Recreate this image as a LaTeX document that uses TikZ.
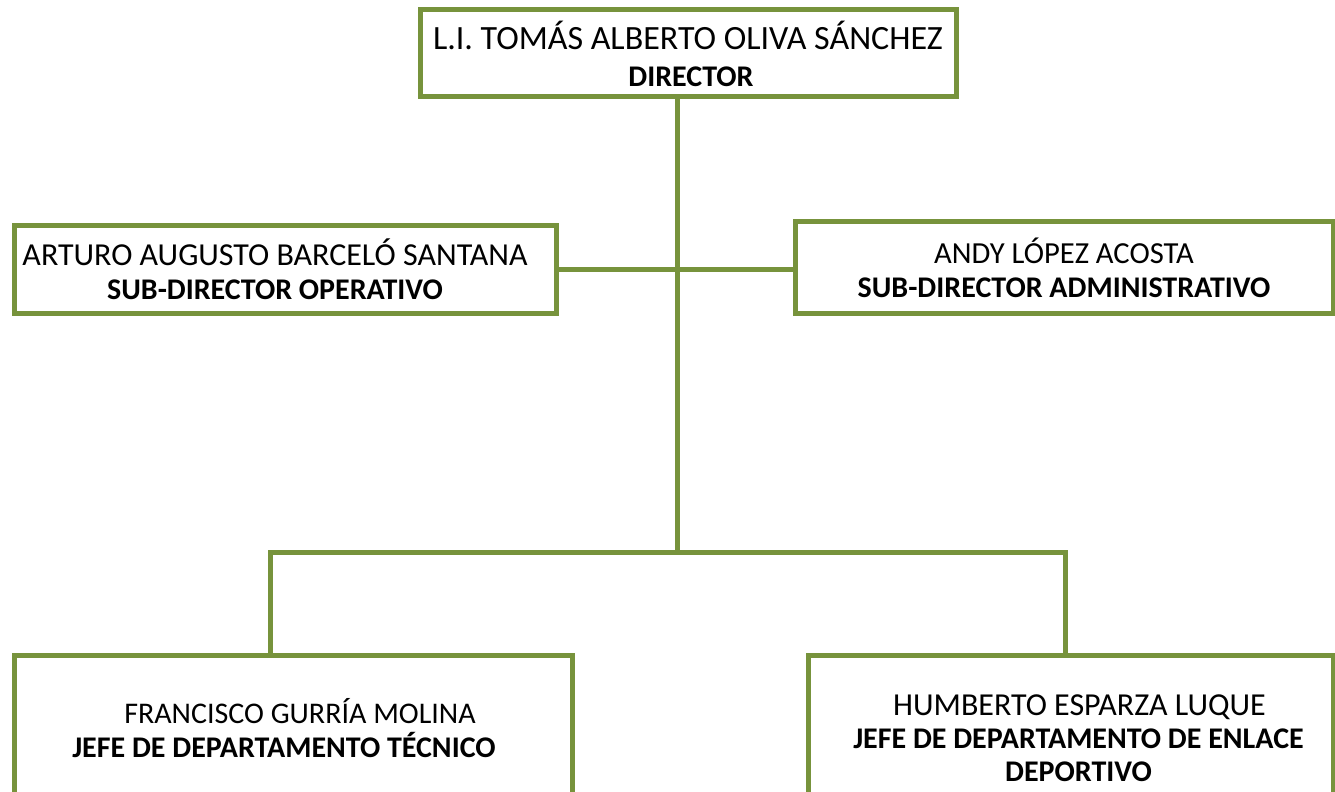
\documentclass[tikz,border=0pt]{standalone}
\usepackage{fontspec}
\setmainfont{Carlito}
\definecolor{olive}{HTML}{77933C}
\tikzset{box/.style = {rectangle, draw=olive, line width=2.5pt, fill=white, align=center,
        inner sep=0pt, font=\fontsize{15}{17}\selectfont},
    link/.style = {draw=olive, line width=2.5pt}}

\begin{document}
\begin{tikzpicture}[x=0.5pt, y=-0.5pt]
    \useasboundingbox (0,0) rectangle (1335,792);
    \clip (0,0) rectangle (1335,792);
    \node[box, minimum width=268pt, minimum height=43.5pt, font=\fontsize{17}{18.5}\selectfont] (dir) at (688,53.5)
        {L.I. TOMÁS ALBERTO OLIVA SÁNCHEZ\\ \hspace*{3pt}\fontsize{15}{18.5}\selectfont\textbf{DIRECTOR}};
    \node[box, minimum width=271pt, minimum height=43.5pt] (subop) at (285,269.5)
        {\fontsize{16}{18}\selectfont ARTURO AUGUSTO BARCELÓ SANTANA\hspace*{10pt}\\ \textbf{SUB-DIRECTOR OPERATIVO}\hspace*{10pt}};
    \node[box, minimum width=269pt, minimum height=45.5pt] (subadm) at (1064,267.5)
        {\fontsize{15.3}{18}\selectfont ANDY LÓPEZ ACOSTA\\ \textbf{SUB-DIRECTOR ADMINISTRATIVO}};
    \node[box, minimum width=279pt, minimum height=73pt] (jtec) at (293,728)
        {\hspace*{7pt}FRANCISCO GURRÍA MOLINA\\ \textbf{JEFE DE DEPARTAMENTO TÉCNICO}\hspace*{9pt}};
    \node[box, minimum width=262.5pt, minimum height=83pt, font=\fontsize{15}{16.5}\selectfont] (jenl) at (1070.5,738)
        {\hspace*{9pt}\fontsize{16}{16.5}\selectfont HUMBERTO ESPARZA LUQUE\\ \hspace*{8pt}\textbf{JEFE DE DEPARTAMENTO DE ENLACE}\\ \hspace*{8pt}\textbf{DEPORTIVO}};

    \coordinate (trunk) at (677,552);
    \coordinate (bl) at (270,552);
    \coordinate (br) at (1065,552);

    \path[link] (dir.south -| trunk) -- (trunk);
    \path[link] (subop.east) -- (subop.east -| subadm.west);
    \path[link] (jtec.north -| bl) -- (bl) -- (br) -- (jenl.north -| br);
\end{tikzpicture}
\end{document}
